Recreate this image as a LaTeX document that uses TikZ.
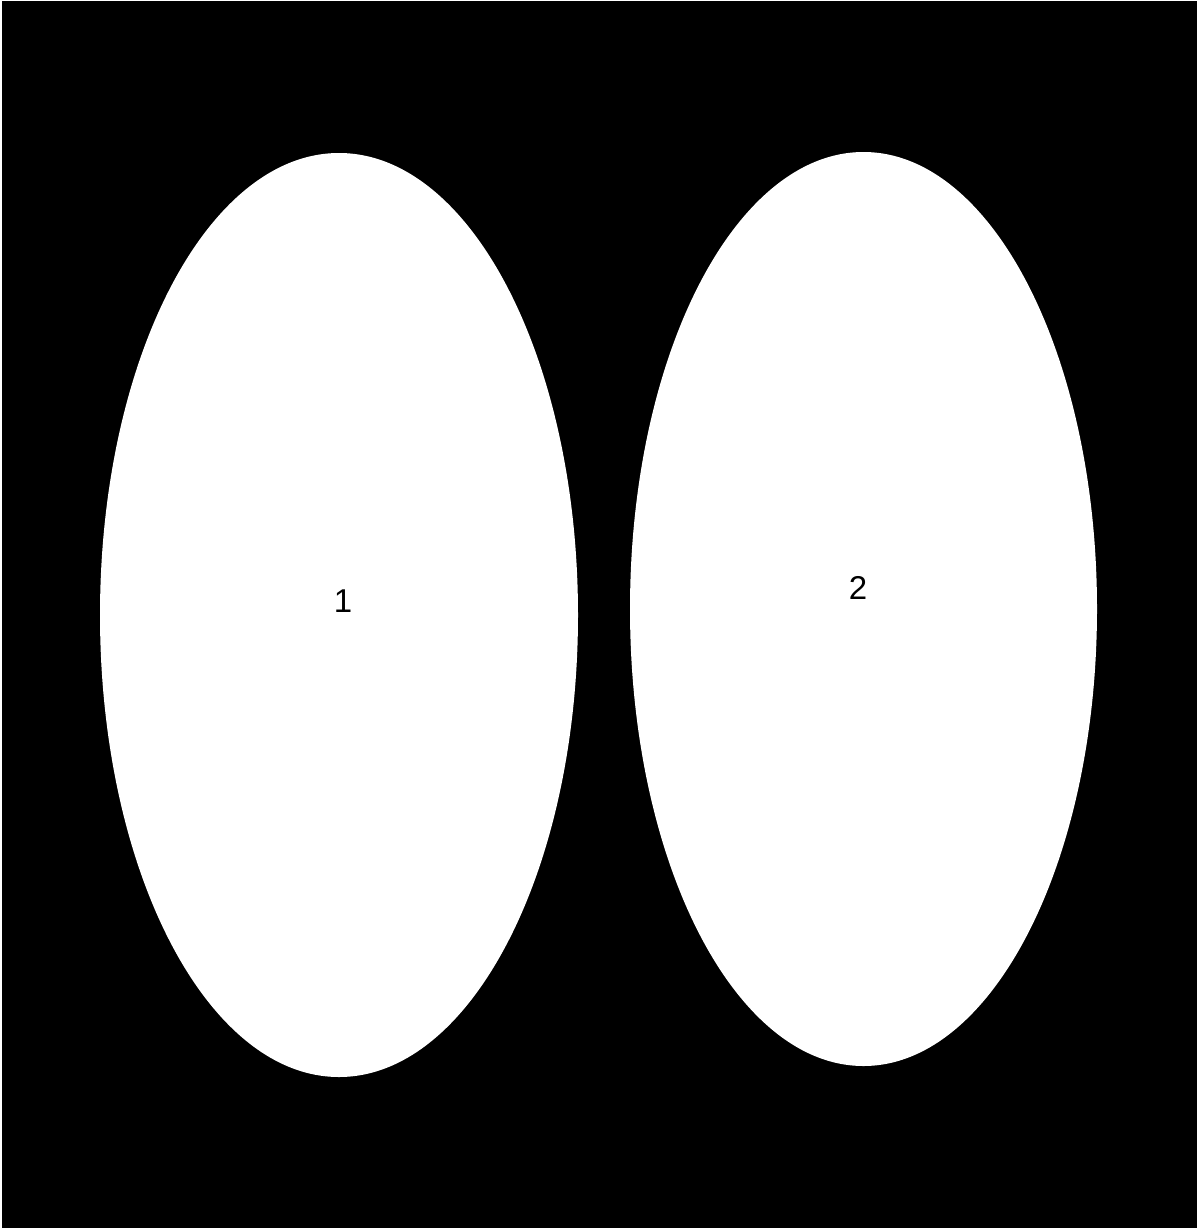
\documentclass[tikz,border=0pt]{standalone}
\usepackage{fontspec}
\setmainfont{Liberation Sans}
\usetikzlibrary{shapes.geometric}
\begin{document}
\begin{tikzpicture}[x=1pt,y=-1pt,
  blob/.style={ellipse,fill=white,draw=none,inner sep=0pt},
  lbl/.style={font=\fontsize{33}{36}\selectfont,text=black}]
\useasboundingbox (0,0) rectangle (1196,1228);
\fill[white] (-5,-5) rectangle (1201,1233);
\fill[black] (1.5,1.5) rectangle (1205,1237);
\node[blob,minimum width=478pt,minimum height=924pt] (e1) at (339,615) {};
\node[blob,minimum width=467pt,minimum height=914pt] (e2) at (863.5,609) {};
\node[lbl] (t1) at (343,601) {1};
\node[lbl] (t2) at (858,588) {2};
\end{tikzpicture}
\end{document}
